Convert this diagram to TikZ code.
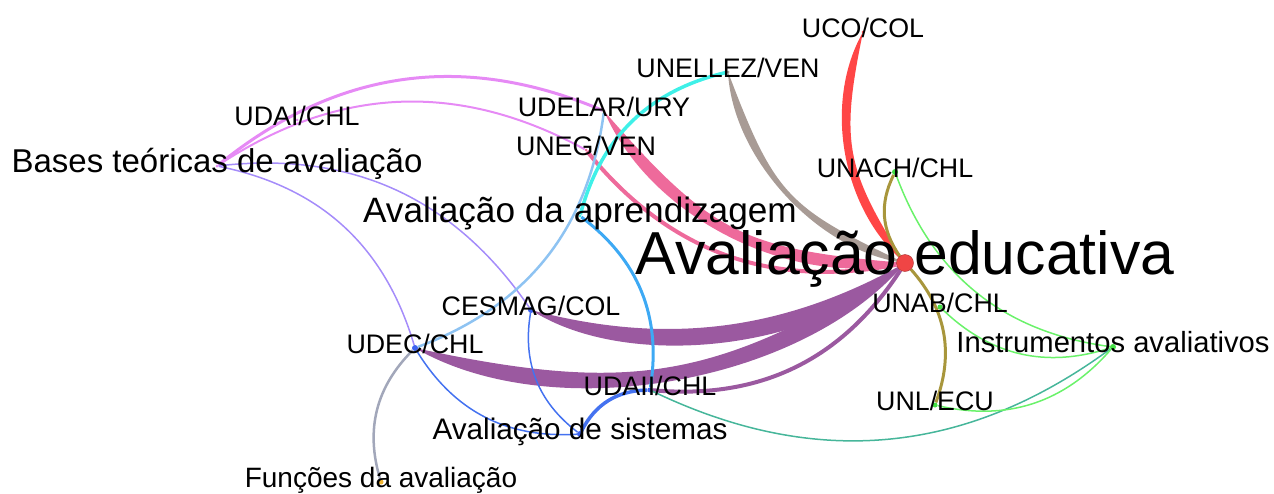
\documentclass[tikz,border=0pt]{standalone}
\usepackage{fontspec}
\setmainfont{Liberation Sans}
\usetikzlibrary{backgrounds}
\definecolor{cRed}{HTML}{FF4646}
\definecolor{cTaupe}{HTML}{A89B95}
\definecolor{cPink}{HTML}{EE6A9B}
\definecolor{cCyan}{HTML}{3FF0E8}
\definecolor{cOrchid}{HTML}{E68AF5}
\definecolor{cViolet}{HTML}{A58CFA}
\definecolor{cSky}{HTML}{8EC3F2}
\definecolor{cAzure}{HTML}{3DA9F4}
\definecolor{cPurple}{HTML}{9B59A0}
\definecolor{cBlue}{HTML}{4472F0}
\definecolor{cSlate}{HTML}{A2A7BA}
\definecolor{cTeal}{HTML}{46B69A}
\definecolor{cOlive}{HTML}{A8963C}
\definecolor{cLime}{HTML}{6AF26A}
\definecolor{dRed}{HTML}{F04545}
\definecolor{dGreen}{HTML}{44E044}
\definecolor{dBlue}{HTML}{3D63F0}
\definecolor{dGold}{HTML}{F2B633}
\tikzset{
  vtx/.style={circle, inner sep=0pt, minimum size=#1},
  lab/.style={inner sep=0pt, text height={0.72*#1pt}, text depth=0pt, yshift={0.17*#1pt}, font=\fontsize{#1}{#1}\selectfont},
  bl/.style={bend left=31},
  br/.style={bend right=31},
  outer/.style={bend right=40, looseness=#1},
  inner/.style={bend left=22, looseness=#1},
}

\begin{document}
\begin{tikzpicture}[x=1pt, y=-1pt]
\useasboundingbox (0,0) rectangle (1274,493);
\node[vtx=17, fill=dRed, draw=dRed!70!black, label={[lab=60.7]center:Avaliação educativa}] (ae) at (905,263) {};
\node[vtx=3, fill=cRed, label={[lab=26.8]center:UCO/COL}] (uco) at (863,32) {};
\node[vtx=3, fill=cTaupe, label={[lab=26.8]center:UNELLEZ/VEN}] (unellez) at (728,72) {};
\node[vtx=3, fill=cPink, label={[lab=26.8]center:UDELAR/URY}] (udelar) at (604,111) {};
\node[vtx=3, fill=cPink, label={[lab=26.8]center:UNEG/VEN}] (uneg) at (586,150) {};
\node[vtx=3, fill=cOrchid, label={[lab=26.8]center:UDAI/CHL}] (udai) at (297,120) {};
\node[vtx=3, fill=cOrchid, label={[lab=33]center:Bases teóricas de avaliação}] (bases) at (217,166) {};
\node[vtx=3, fill=cCyan, label={[lab=35.2]center:Avaliação da aprendizagem}] (aprend) at (580,216) {};
\node[vtx=6, fill=dGreen, label={[lab=26.8]center:UNACH/CHL}] (unach) at (895,172) {};
\node[vtx=6, fill=dBlue, label={[lab=26.8]center:CESMAG/COL}] (cesmag) at (531,310) {};
\node[vtx=6, fill=dBlue, label={[lab=26.8]center:UDEC/CHL}] (udec) at (415,348) {};
\node[vtx=5, fill=dBlue, label={[lab=26.8]center:UDAII/CHL}] (udaii) at (650,390) {};
\node[vtx=5, fill=dGreen, label={[lab=26.8]center:UNAB/CHL}] (unab) at (940,307) {};
\node[vtx=6, fill=dGreen, label={[lab=29.2]center:Instrumentos avaliativos}] (instr) at (1113,347) {};
\node[vtx=5, fill=dGreen, label={[lab=26.8]center:UNL/ECU}] (unl) at (935,405) {};
\node[vtx=6, fill=dBlue, label={[lab=29.7]center:Avaliação de sistemas}] (sist) at (580,434) {};
\node[vtx=5, fill=dGold, label={[lab=28]center:Funções da avaliação}] (funcoes) at (381,482) {};
\begin{scope}[on background layer]
\fill[cPurple] (cesmag.center) to[outer=0.792] (ae.center) to[inner=0.949] (cesmag.center);
\fill[cPurple] (udec.center) to[outer=0.816] (ae.center) to[inner=1.143] (udec.center);
\draw[cPurple, line width=4] (udaii) to[br] (ae);
\fill[cPink] (udelar.center) to[outer=0.879] (ae.center) to[inner=1.239] (udelar.center);
\draw[cPink, line width=4] (uneg) to[br] (ae);
\fill[cRed] (uco.center) to[outer=0.891] (ae.center) to[inner=1.219] (uco.center);
\fill[cTaupe] (unellez.center) to[outer=0.852] (ae.center) to[inner=1.286] (unellez.center);
\draw[cCyan, line width=3.5] (unellez) to[br] (aprend);
\draw[cOrchid, line width=3] (bases) to[bl] (udelar);
\draw[cOrchid, line width=2] (bases) to[bl] (uneg);
\draw[cViolet, line width=1.5] (bases) to[bl] (cesmag);
\draw[cViolet, line width=1.5] (bases) to[bl] (udec);
\draw[cSky, line width=2.5] (udelar) to[bl] (udec);
\draw[cAzure, line width=3] (aprend) to[bl] (udaii);
\draw[cBlue, line width=1.5] (cesmag) to[br] (sist);
\draw[cBlue, line width=1.5] (udec) to[br] (sist);
\draw[cBlue, line width=3.5] (udaii) to[br] (sist);
\draw[cSlate, line width=2.5] (udec) to[br] (funcoes);
\draw[cTeal, line width=1.5] (udaii) to[br] (instr);
\draw[cOlive, line width=3] (unach) to[br] (ae);
\draw[cOlive, line width=3] (ae) to[bl] (unl);
\draw[cLime, line width=1.5] (unach) to[br] (instr);
\draw[cLime, line width=1.5] (unab) to[br] (instr);
\draw[cLime, line width=1.5] (unl) to[br] (instr);
\end{scope}
\end{tikzpicture}
\end{document}
